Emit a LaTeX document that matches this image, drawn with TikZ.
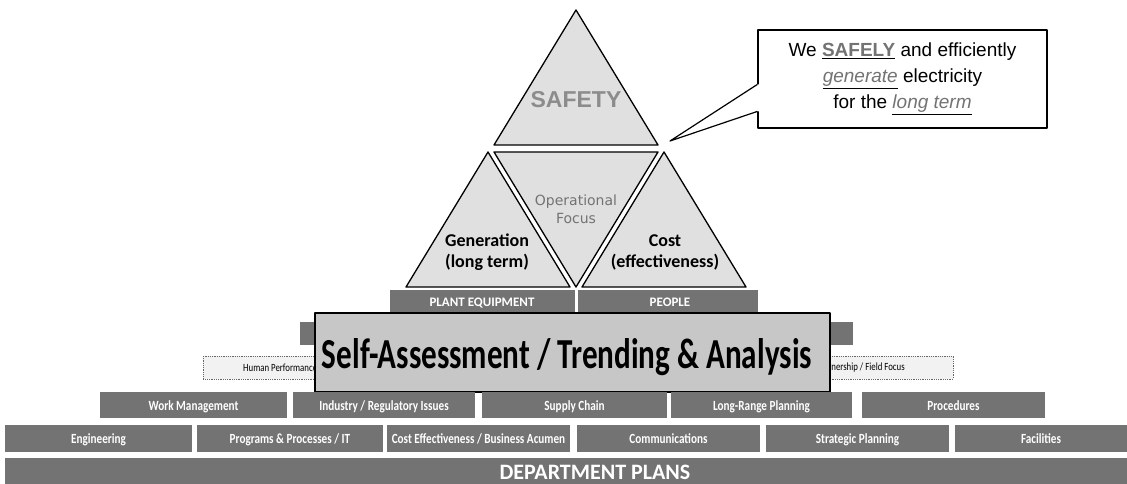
\documentclass[tikz,border=0pt]{standalone}
\usepackage{fontspec}
\usepackage{graphicx}
\setmainfont{Carlito}
\newfontfamily\arialf{Liberation Sans}
\newfontfamily\dejaf{DejaVu Sans}
\usetikzlibrary{calc}
\newcommand{\cnd}[1]{\scalebox{0.8}[1]{#1}}
\newcommand{\ulgray}[1]{\underline{\textcolor{black!55}{#1}}}

\begin{document}
\begin{tikzpicture}[x=1pt,y=-1pt,line join=round,
  bar/.style={fill=black!55},
  barlbl/.style={text=white,inner sep=0pt,anchor=base,font=\bfseries\fontsize{14}{14}\selectfont},
  tri/.style={fill=black!12,draw=black,line width=1.3pt},
  litebox/.style={fill=black!5,draw=black!60,densely dotted,line width=0.8pt}]
  \fill[white] (0,0) rectangle (1127,484);
  \useasboundingbox (0,0) rectangle (1127,484);
  % the four triangles of the pyramid top
  \draw[tri] (576,10)--(658,145)--(494,145)--cycle;
  \draw[tri] (494,152)--(658,152)--(576,287)--cycle;
  \draw[tri] (488,152)--(570,287)--(406,287)--cycle;
  \draw[tri] (664,152)--(746,287)--(582,287)--cycle;
  \node[font=\arialf\bfseries\fontsize{23}{23}\selectfont,text=black!45] (safety) at (576,100) {SAFETY};
  \node[font=\dejaf\fontsize{14}{18}\selectfont,text=black!55,align=center] (opfocus) at (576,209) {Operational\\Focus};
  \node[font=\bfseries\fontsize{18}{21}\selectfont,align=center] (gen) at (487,252) {Generation\\(long term)};
  \node[font=\bfseries\fontsize{18}{21}\selectfont,align=center] (cost) at (665,252) {Cost\\(effectiveness)};
  % callout with its pointer
  \node[draw,fill=white,line width=1.2pt,minimum width=289pt,minimum height=98pt,inner sep=0pt,
        align=center,font=\arialf\fontsize{19}{26}\selectfont] (callout) at (902.5,79)
    {We \ulgray{\textbf{SAFELY}} and efficiently\\ \ulgray{\textit{generate}} electricity\\ for the \ulgray{\textit{long term}}};
  \coordinate (tip) at (670,141);
  \coordinate (pa) at ($(callout.north west)+(0,55)$);
  \coordinate (pb) at ($(callout.north west)+(0,82)$);
  \fill[white] (pa)--(tip)--(pb)--($(pb)+(2,0)$)--($(pa)+(2,0)$)--cycle;
  \draw[line width=1.2pt] (pa)--(tip)--(pb);
  % equipment / people bars
  \fill[bar] (390,290) rectangle (575,313);
  \fill[bar] (578,290) rectangle (758,313);
  \node[barlbl,font=\bfseries\fontsize{13}{13}\selectfont] (equip) at (482,306) {PLANT EQUIPMENT};
  \node[barlbl,font=\bfseries\fontsize{13}{13}\selectfont] (people) at (670,306) {PEOPLE};
  % row mostly hidden behind the self-assessment box
  \fill[bar] (300,322) rectangle (575,345);
  \fill[bar] (580,322) rectangle (853,345);
  % light boxes
  \draw[litebox] (203,356) rectangle (480,379);
  \draw[litebox] (680,356) rectangle (953,379);
  \node[anchor=west,inner sep=0pt,font=\fontsize{11}{11}\selectfont] (humperf) at (243,368) {\cnd{Human Performance}};
  \node[anchor=east,inner sep=0pt,font=\fontsize{11}{11}\selectfont] (ownfield) at (905,368) {\cnd{Ownership / Field Focus}};
  % self-assessment box on top
  \draw[fill=black!22,line width=2.6pt] (315,313) rectangle (830,392);
  \node[inner sep=0pt] (selfa) at (567,357) {\resizebox{490pt}{30pt}{\bfseries Self-Assessment / Trending \& Analysis}};
  % department rows
  \foreach \xa/\xb/\lbl [count=\i] in {100/287/{Work Management},293/475/{Industry / Regulatory Issues},
      482/667/{Supply Chain},671/852/{Long-Range Planning},862/1045/{Procedures}}{
    \fill[bar] (\xa,392) rectangle (\xb,418);
    \node[barlbl] (rowa\i) at ({(\xa+\xb)/2},410) {\cnd{\lbl}};
  }
  \foreach \xa/\xb/\lbl [count=\i] in {5/192/{Engineering},197/383/{Programs \& Processes / IT},
      387/570/{Cost Effectiveness / Business Acumen},577/760/{Communications},
      766/949/{Strategic Planning},955/1127/{Facilities}}{
    \fill[bar] (\xa,425) rectangle (\xb,452);
    \node[barlbl] (rowb\i) at ({(\xa+\xb)/2},443.5) {\cnd{\lbl}};
  }
  \fill[bar] (5,458) rectangle (1127,484);
  \node[barlbl,font=\bfseries\fontsize{22}{22}\selectfont] (depplans) at (595,479) {DEPARTMENT PLANS};
\end{tikzpicture}
\end{document}
